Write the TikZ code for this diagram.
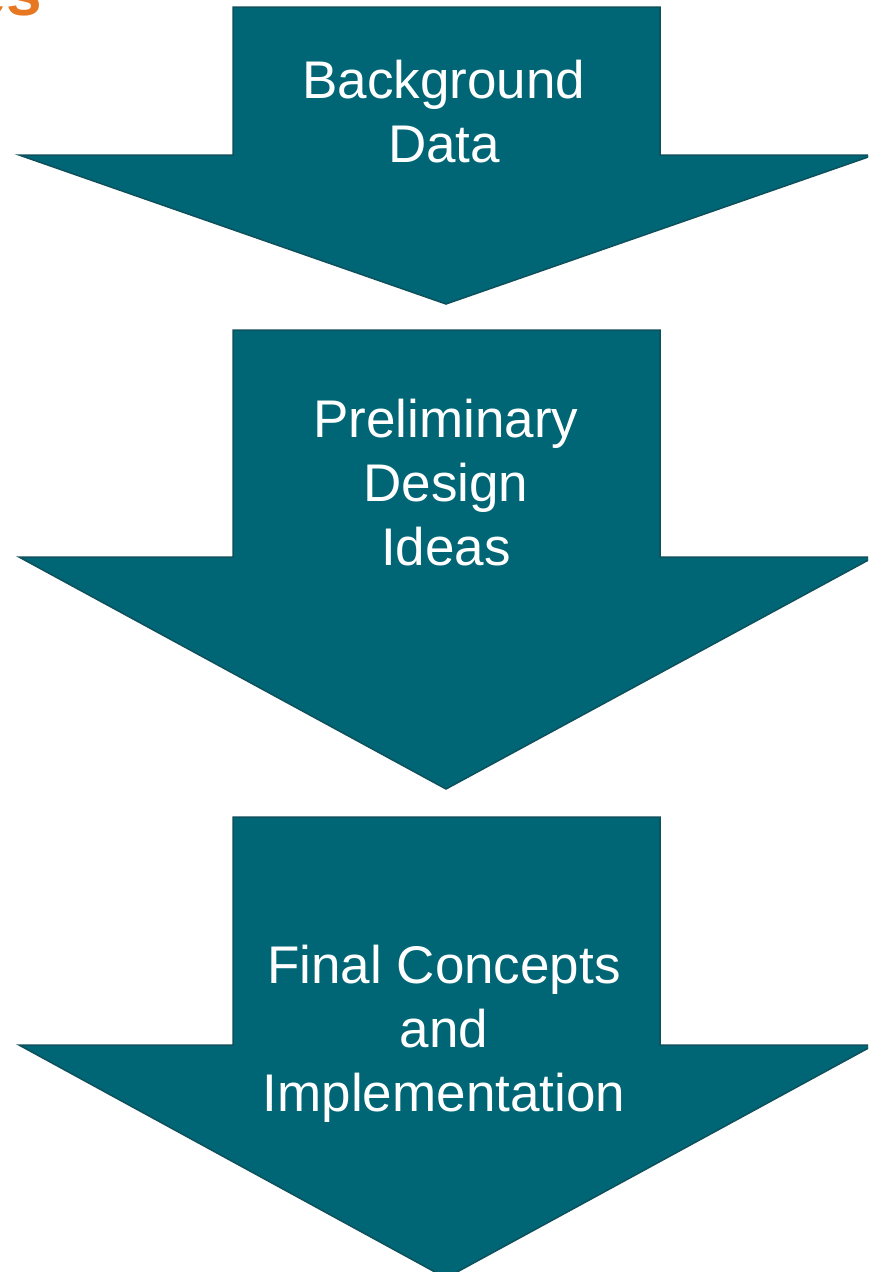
\documentclass[tikz,border=0pt]{standalone}
\usepackage{fontspec}
\setmainfont{Liberation Sans}
\usetikzlibrary{positioning}
\definecolor{arrowfill}{RGB}{0,102,117}
\definecolor{arrowline}{RGB}{14,80,92}
\definecolor{titleorange}{RGB}{232,119,34}
\tikzstyle{downarrow} = [fill=arrowfill, draw=arrowline, line width=1.5pt, line join=miter]
\tikzstyle{stagetext} = [text=white, align=center, inner sep=0pt, font=\fontsize{53}{64}\selectfont]

\begin{document}
\begin{tikzpicture}[x=1pt, y=-1pt]
\useasboundingbox (0,0) rectangle (868,1272);
\clip (0,0) rectangle (868,1272);
% cut-off title in the corner
\node (title) [anchor=base east, inner sep=0pt, text=titleorange, font=\bfseries\fontsize{64}{70}\selectfont] at (42,15) {es};

% the three stages
\draw [downarrow] (233,7) -- (660,7) -- (660,155) -- (874,155) -- (446,304) -- (19,155) -- (233,155) -- cycle;
\draw [downarrow] (233,330) -- (660,330) -- (660,557) -- (874,557) -- (446,789) -- (19,557) -- (233,557) -- cycle;
\draw [downarrow] (233,817) -- (660,817) -- (660,1045) -- (874,1045) -- (446,1278) -- (19,1045) -- (233,1045) -- cycle;

\node (background) [stagetext] at (444,112) {Background\\Data};
\node (preliminary) [stagetext] at (446,483) {Preliminary\\Design\\Ideas};
\node (final) [stagetext] at (444,1034) {Final Concepts\\and\\Implementation};
\end{tikzpicture}
\end{document}
